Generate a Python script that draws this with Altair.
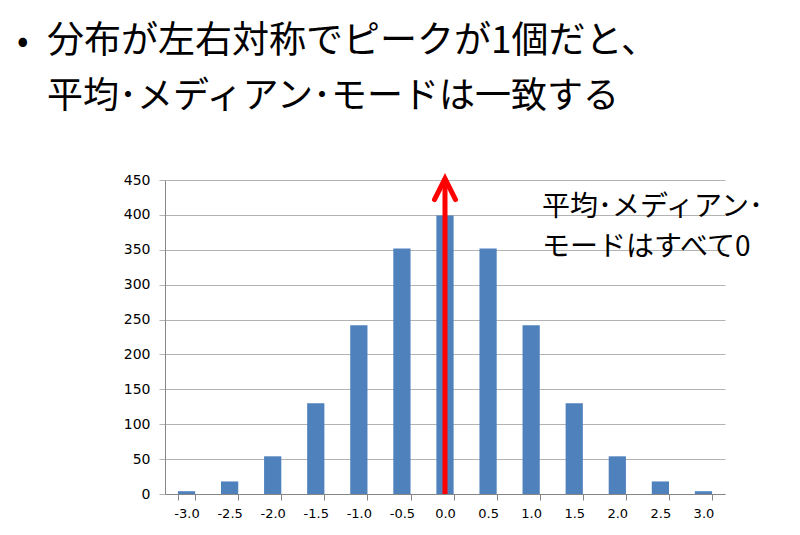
import altair as alt
import pandas as pd

categories = ["-3.0", "-2.5", "-2.0", "-1.5", "-1.0", "-0.5", "0.0",
              "0.5", "1.0", "1.5", "2.0", "2.5", "3.0"]
counts = [4, 18, 54, 130, 242, 352, 399, 352, 242, 130, 54, 18, 4]
y_ticks = [0, 50, 100, 150, 200, 250, 300, 350, 400, 450]

arrow_category = ["0.0"]
arrow_bottom = [0]
arrow_top = [452]

bullet = "•"
title_lines = ["分布が左右対称でピークが1個だと、", "平均･メディアン･モードは一致する"]
note_lines = ["平均･メディアン･", "モードはすべて0"]

JP = "Noto Sans CJK JP"
LAB = "DejaVu Sans"

df = pd.DataFrame({"x": categories, "y": counts})
arrow_df = pd.DataFrame({"x": arrow_category, "y0": arrow_bottom, "y1": arrow_top})

x_scale = alt.Scale(domain=categories, paddingInner=0.6, paddingOuter=0.3)
y_scale = alt.Scale(domain=[0, 450], nice=False, zero=True)

x_axis = alt.Axis(title=None, labelAngle=0, grid=False, tickBand="extent",
                  domainColor="#868686", tickColor="#868686", tickSize=6,
                  labelFont=LAB, labelFontSize=13, labelColor="#000000",
                  labelPadding=7)
y_axis = alt.Axis(title=None, values=y_ticks, grid=True, gridColor="#b3b3b3",
                  domainColor="#868686", tickColor="#b3b3b3", tickSize=6,
                  labelFont=LAB, labelFontSize=14, labelColor="#000000",
                  labelPadding=9, labelOverlap=False, tickCount=10)

X = alt.X("x:N", scale=x_scale, axis=x_axis, sort=categories)

bars = alt.Chart(df).mark_bar(color="#4F81BD").encode(
    x=X,
    y=alt.Y("y:Q", scale=y_scale, axis=y_axis),
)

shaft = alt.Chart(arrow_df).mark_rule(color="#FF0000", strokeWidth=5).encode(
    x=X,
    y=alt.Y("y0:Q", scale=y_scale, axis=y_axis),
    y2="y1:Q",
)

head = alt.Chart(arrow_df).mark_point(
    shape="M-1,2L0,0L1,2", size=441, filled=False, stroke="#FF0000",
    strokeWidth=5, opacity=1, strokeCap="round", strokeJoin="miter",
).encode(
    x=X,
    y=alt.Y("y1:Q", scale=y_scale, axis=y_axis),
)

def label(txt, x, y, size, font=JP):
    return alt.Chart(pd.DataFrame({"t": [txt]})).mark_text(
        align="left", baseline="middle", font=font, fontSize=size,
        color="#000000",
    ).encode(text="t:N", x=alt.value(x), y=alt.value(y))

texts = [
    label(bullet, -148, -138, 34),
    label(title_lines[0], -118, -138, 37),
    label(title_lines[1], -118, -83, 36),
    label(note_lines[0], 377, 28, 28),
    label(note_lines[1], 377, 68, 28),
]

chart = alt.layer(bars, shaft, head, *texts).properties(
    width=560, height=314,
    padding={"left": 165, "top": 180, "right": 75, "bottom": 41},
    autosize=alt.AutoSizeParams(type="none"),
    background="white",
).configure_view(stroke=None)

chart.save("out.html", embed_options={"renderer": "svg", "actions": False})
